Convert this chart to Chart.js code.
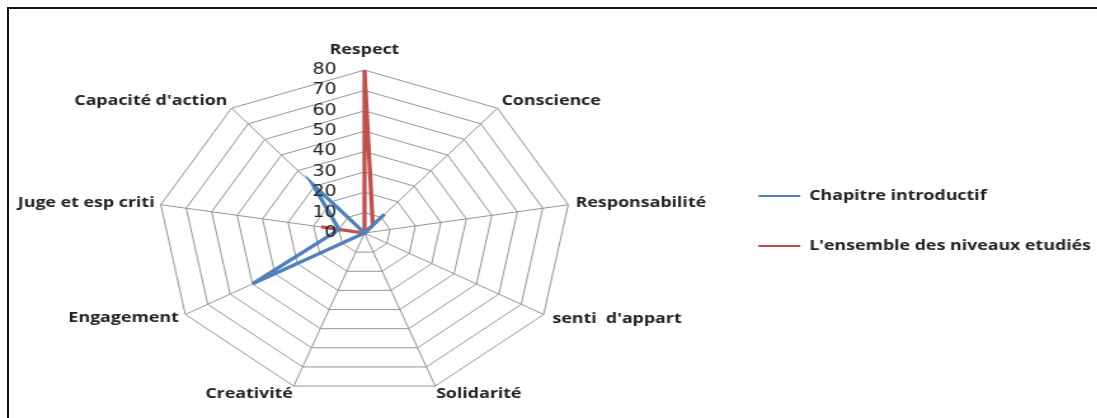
<!DOCTYPE html>
<html>
<head>
<meta charset="utf-8">
<script src="https://cdn.jsdelivr.net/npm/chart.js@4"></script>
<style>
  html, body { margin: 0; padding: 0; background: #fff; overflow: hidden; }
  #wrap { position: absolute; left: 0; top: 0; width: 864px; height: 418px; transform: scaleX(1.27); transform-origin: 0 0; }
  #frame { position: absolute; left: 7px; top: 7px; width: 1100px; height: 420px; border-top: 2px solid #111; border-left: 2px solid #111; pointer-events: none; }
</style>
</head>
<body>
<div id="wrap"><canvas id="radar"></canvas></div>
<div id="frame"></div>
<script>
// axes du radar (sens horaire depuis le haut)
const axes = [
  "Respect",
  "Conscience",
  "Responsabilité",
  "senti  d'appart",
  "Solidarité",
  "Creativité",
  "Engagement",
  "Juge et esp criti",
  "Capacité d'action",
];
const introValues = [0, 12, 0, 0, 0, 0, 50, 10, 31];
const allLevelsValues = [80, 5, 0, 0, 0, 0, 0, 17, 0];
const seriesNames = ["Chapitre introductif", "L'ensemble des niveaux etudiés"];
const tickValues = [0, 10, 20, 30, 40, 50, 60, 70, 80];

const blue = "#4F81BD";
const red = "#C0504D";

// décalage des libellés par axe (écart radial, hauteur de ligne)
const labelPad = [12, 5, 6, 8, 2, 2, 6, 5, 5];
const labelLine = [1.15, 0.45, 0.15, 0.15, 0.87, 0.87, 0.1, 0.15, 0.45];

// étiquettes de l'échelle à gauche de l'axe vertical
const tickLabelsLeft = {
  id: "tickLabelsLeft",
  afterDraw(chart) {
    const scale = chart.scales.r;
    const ctx = chart.ctx;
    ctx.save();
    ctx.font = '15px "DejaVu Sans"';
    ctx.fillStyle = "#222";
    ctx.textAlign = "right";
    ctx.textBaseline = "middle";
    tickValues.forEach((v) => {
      const d = scale.getDistanceFromCenterForValue(v);
      ctx.fillText(String(v), scale.xCenter - 22, scale.yCenter - d);
    });
    ctx.restore();
  },
};

new Chart(document.getElementById("radar"), {
  type: "radar",
  data: {
    labels: axes,
    datasets: [
      {
        label: seriesNames[0],
        data: introValues,
        borderColor: blue,
        backgroundColor: "transparent",
        borderWidth: 3.3,
        pointRadius: 0,
        fill: false,
      },
      {
        label: seriesNames[1],
        data: allLevelsValues,
        borderColor: red,
        backgroundColor: "transparent",
        borderWidth: 3.3,
        pointRadius: 0,
        fill: false,
      },
    ],
  },
  options: {
    responsive: true,
    maintainAspectRatio: false,
    animation: false,
    layout: { padding: { left: 10, right: -5, top: 30, bottom: 6 } },
    scales: {
      r: {
        min: 0,
        max: 80,
        ticks: { stepSize: 10, display: false },
        grid: { color: "#959595", lineWidth: 1 },
        angleLines: { color: "#959595", lineWidth: 1 },
        pointLabels: {
          font: (c) => ({ family: "Open Sans", size: 14, weight: "bold", lineHeight: labelLine[c.index] }),
          color: "#222",
          padding: (c) => labelPad[c.index],
        },
      },
    },
    plugins: {
      tooltip: { enabled: false },
      legend: {
        position: "right",
        labels: {
          boxWidth: 33,
          boxHeight: 2,
          padding: 36,
          color: "#222",
          font: { family: "Open Sans", size: 14, weight: "bold" },
          generateLabels: (chart) =>
            chart.data.datasets.map((ds, i) => ({
              text: ds.label,
              fillStyle: ds.borderColor,
              strokeStyle: ds.borderColor,
              lineWidth: 0,
              hidden: false,
              datasetIndex: i,
              fontColor: "#222",
            })),
        },
      },
    },
  },
  plugins: [tickLabelsLeft],
});
</script>
</body>
</html>
